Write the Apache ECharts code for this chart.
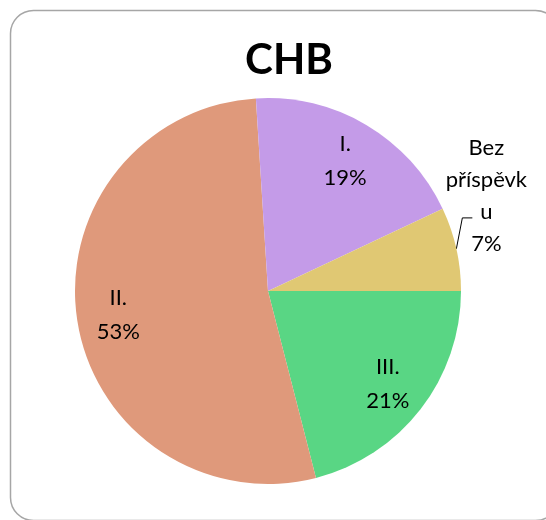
<!DOCTYPE html>
<html>
<head>
<meta charset="utf-8">
<script src="https://cdn.jsdelivr.net/npm/echarts@6/dist/echarts.min.js"></script>
<style>
html,body{margin:0;padding:0;background:#fff;}
#c{width:546px;height:520px;}
</style>
</head>
<body>
<div id="c"></div>
<script>
const titleText = 'CHB';
const categories = ['III.', 'II.', 'I.', 'Bez příspěvku'];
const values = [21, 53, 19, 7];
const colors = ['#59d684', '#df997b', '#c49be8', '#e0c873'];

const chart = echarts.init(document.getElementById('c'));
const FONT = 'Lato, Carlito, "Open Sans", sans-serif';
const R = 193;

const mainData = categories.map((n, i) => ({
  name: n, value: values[i],
  itemStyle: { color: colors[i] },
  label: { show: i === 3 },
  labelLine: { show: i === 3 }
}));
const overlayData = categories.map((n, i) => ({
  name: n, value: values[i],
  label: { show: i !== 3 }
}));

chart.setOption({
  backgroundColor: '#ffffff',
  title: {
    text: titleText, left: 284, top: 34, textAlign: 'center',
    textStyle: { fontFamily: FONT, fontWeight: 'bold', fontSize: 42, color: '#000' }
  },
  graphic: [{
    type: 'rect', silent: true, z: -1,
    shape: { x: 10.5, y: 10.5, width: 548, height: 510, r: 23 },
    style: { fill: 'none', stroke: '#a6a6a6', lineWidth: 1.5 }
  }],
  series: [{
    type: 'pie', center: [268, 291], radius: [0, R],
    startAngle: 0, clockwise: true, animation: false, silent: true,
    data: mainData,
    itemStyle: { borderWidth: 0 },
    label: {
      position: 'outside', alignTo: 'none', overflow: 'none', width: 200,
      formatter: p => '{c|Bez}\n{c|příspěvk}\n{c|u}\n{c|' + p.percent.toFixed(0) + '%}',
      rich: { c: { align: 'center', fontFamily: FONT, fontSize: 22, lineHeight: 32, color: '#000' } },
      fontFamily: FONT, fontSize: 22, color: '#000'
    },
    labelLine: { length: 10, length2: 10, lineStyle: { color: '#000', width: 1 } },
    labelLayout: function (p) {
      const pts = p.labelLinePoints;
      if (!pts) return {};
      const p0 = pts[0];
      const p1 = [p0[0] + 6, p0[1] - 31];
      const p2 = [p0[0] + 16, p0[1] - 31];
      return {
        labelLinePoints: [p0, p1, p2],
        x: p0[0] + 30, y: p0[1] - 53,
        align: 'center', verticalAlign: 'middle'
      };
    }
  }, {
    type: 'pie', center: [268, 291], radius: [0, R * 1.54],
    startAngle: 0, clockwise: true, animation: false, silent: true,
    data: overlayData,
    itemStyle: { color: 'rgba(0,0,0,0)', borderWidth: 0 },
    label: {
      position: 'inside',
      formatter: p => p.name + '\n' + p.percent.toFixed(0) + '%',
      fontFamily: FONT, fontSize: 22, lineHeight: 34, color: '#000'
    },
    labelLine: { show: false },
    emphasis: { disabled: true }
  }]
});
</script>
</body>
</html>
